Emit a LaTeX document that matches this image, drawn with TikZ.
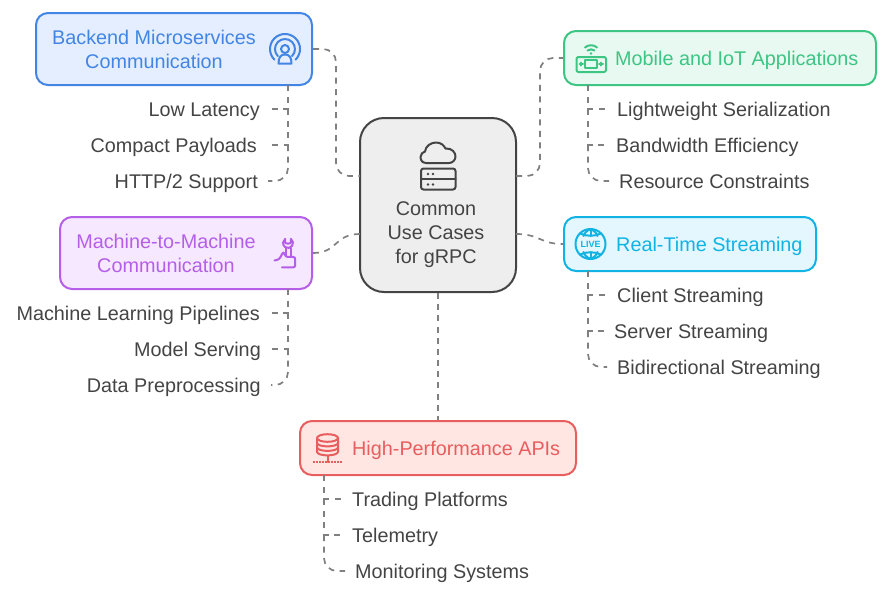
\documentclass[tikz,border=0pt]{standalone}
\usepackage{fontspec}
\setmainfont{Liberation Sans}
\usetikzlibrary{calc}
\definecolor{ink}{HTML}{444444}
\definecolor{conn}{HTML}{808080}
\definecolor{bluel}{HTML}{4285E4}\definecolor{bluef}{HTML}{E4EEFF}
\definecolor{greenl}{HTML}{3CC583}\definecolor{greenf}{HTML}{E8F9F1}
\definecolor{purpl}{HTML}{B55FE8}\definecolor{purpf}{HTML}{F6E8FF}
\definecolor{cyanl}{HTML}{10B3E3}\definecolor{cyanf}{HTML}{E4F7FF}
\definecolor{redl}{HTML}{E85D5D}\definecolor{redf}{HTML}{FFE6E3}
\tikzset{
  x=1pt,y=-1pt,
  basefont/.style={font=\fontsize{19.8}{24}\selectfont},
  catbox/.style={draw=#1l,fill=#1f,line width=2pt,rounded corners=12pt,inner sep=0pt},
  cattext/.style={basefont,text=#1l,inner sep=0pt,text height=15pt,text depth=1pt},
  leafl/.style={basefont,text=ink,anchor=east,inner ysep=0pt,inner xsep=10pt,text height=15pt,text depth=1pt},
  leafr/.style={basefont,text=ink,anchor=west,inner ysep=0pt,inner xsep=10pt,text height=15pt,text depth=1pt},
  conline/.style={draw=conn,line width=1.7pt,dash pattern=on 6pt off 5.5pt},
  trunk/.style={conline,rounded corners=13pt},
  icon/.style={line width=2pt,line cap=round,line join=round,fill=none},
}
\begin{document}
\begin{tikzpicture}
\useasboundingbox (0,0) rectangle (889,595);
\coordinate (tbk) at (288,85);
\coordinate (tmb) at (588,85);
\coordinate (tmc) at (288,289);
\coordinate (trt) at (588,271);
\coordinate (thp) at (324,475);
% boxes
\node[catbox=blue,minimum width=276pt,minimum height=72pt] (backend) at (174,49) {};
\node[catbox=green,minimum width=312pt,minimum height=54pt] (mobile) at (720,58) {};
\node[catbox=purp,minimum width=252pt,minimum height=72pt] (machine) at (186,253) {};
\node[catbox=cyan,minimum width=252pt,minimum height=54pt] (realtime) at (690,244) {};
\node[catbox=red,minimum width=276pt,minimum height=54pt] (highperf) at (438,448) {};
\node[draw=ink,fill=black!6.5,line width=2pt,rounded corners=24pt,minimum width=156pt,minimum height=174pt,inner sep=0pt] (center) at (438,205) {};
% box labels
\node[cattext=blue] (t1a) at (154,37) {Backend Microservices};
\node[cattext=blue] (t1b) at (154,61) {Communication};
\node[cattext=green,anchor=west] (t2) at (615,58) {Mobile and IoT Applications};
\node[cattext=purp] (t3a) at (166,241) {Machine-to-Machine};
\node[cattext=purp] (t3b) at (166,265) {Communication};
\node[cattext=cyan,anchor=west] (t4) at (616,244) {Real-Time Streaming};
\node[cattext=red,anchor=west] (t5) at (352,448) {High-Performance APIs};
\node[basefont,text=ink,inner sep=0pt,text height=15pt,text depth=1pt] (c1) at (436,208) {Common};
\node[basefont,text=ink,inner sep=0pt,text height=15pt,text depth=1pt] (c2) at (436,232) {Use Cases};
\node[basefont,text=ink,inner sep=0pt,text height=15pt,text depth=1pt] (c3) at (436,256) {for gRPC};
% leaves
\node[leafl] (low) at (270,109) {Low Latency};
\node[leafl] (compact) at (267,145) {Compact Payloads};
\node[leafl] (http) at (268,181) {HTTP/2 Support};
\node[leafr] (light) at (607,109) {Lightweight Serialization};
\node[leafr] (band) at (606,145) {Bandwidth Efficiency};
\node[leafr] (resource) at (609,181) {Resource Constraints};
\node[leafl] (mlp) at (270,313) {Machine Learning Pipelines};
\node[leafl] (serving) at (271,349) {Model Serving};
\node[leafl] (prep) at (271,385) {Data Preprocessing};
\node[leafr] (client) at (607,295) {Client Streaming};
\node[leafr] (server) at (604,331) {Server Streaming};
\node[leafr] (bidi) at (607,367) {Bidirectional Streaming};
\node[leafr] (trading) at (342,499) {Trading Platforms};
\node[leafr] (tele) at (342,535) {Telemetry};
\node[leafr] (monitor) at (345,571) {Monitoring Systems};
% center connectors
\coordinate (cl1) at (360,176);\coordinate (cl2) at (360,234);
\coordinate (cr1) at (516,176);\coordinate (cr2) at (516,234);
\draw[trunk] (backend.east) -- (336,49) -- (336,176) -- (cl1);
\draw[trunk] (cr1) -- (540,176) -- (540,58) -- (mobile.west);
\draw[conline] (machine.east) .. controls (338,253) and (334,234) .. (cl2);
\draw[conline] (cr2) .. controls (540,234) and (540,244) .. (realtime.west);
\draw[conline,dash pattern=on 6pt off 5.18pt] (center.south) -- (highperf.north);
% trunks
\draw[conline] (tbk) -- (low.east -| tbk) -- (low.east);
\draw[conline] (low.east -| tbk) -- (compact.east -| tbk) -- (compact.east);
\draw[trunk] (compact.east -| tbk) -- (http.east -| tbk) -- (http.east);
\draw[conline] (tmb) -- (light.west -| tmb) -- (light.west);
\draw[conline] (light.west -| tmb) -- (band.west -| tmb) -- (band.west);
\draw[trunk] (band.west -| tmb) -- (resource.west -| tmb) -- (resource.west);
\draw[conline] (tmc) -- (mlp.east -| tmc) -- (mlp.east);
\draw[conline] (mlp.east -| tmc) -- (serving.east -| tmc) -- (serving.east);
\draw[trunk] (serving.east -| tmc) -- (prep.east -| tmc) -- (prep.east);
\draw[conline] (trt) -- (client.west -| trt) -- (client.west);
\draw[conline] (client.west -| trt) -- (server.west -| trt) -- (server.west);
\draw[trunk] (server.west -| trt) -- (bidi.west -| trt) -- (bidi.west);
\draw[conline] (thp) -- (trading.west -| thp) -- (trading.west);
\draw[conline] (trading.west -| thp) -- (tele.west -| thp) -- (tele.west);
\draw[trunk] (tele.west -| thp) -- (monitor.west -| thp) -- (monitor.west);
% icon: backend
\begin{scope}[icon,draw=bluel]
\draw (285,49) circle[radius=4];
\draw (278.5,63.5) .. controls (278.5,57) and (281,54.5) .. (285,54.5) .. controls (289,54.5) and (291.5,57) .. (291.5,63.5) -- cycle;
\draw (277.9,56.1) arc[start angle=135,end angle=405,radius=10];
\draw (274.4,59.6) arc[start angle=135,end angle=405,radius=15];
\end{scope}
% icon: mobile
\begin{scope}[icon,draw=greenl]
\draw[rounded corners=2pt] (576.5,57) rectangle (606,72);
\draw (585,59.5) rectangle (597,68);
\draw (579.5,64) -- (583,64) (581,62.5) -- (581,65.5);
\draw (599,64) -- (603,64) (601,62.5) -- (601,65.5);
\draw (585,47.5) .. controls (588,44.5) and (594,44.5) .. (597,47.5);
\draw (587.5,50.5) .. controls (589.5,49) and (592.5,49) .. (594.5,50.5);
\fill[greenl] (591,53.5) circle[radius=1.3];
\end{scope}
% icon: cloud + server
\begin{scope}[icon,draw=ink]
\draw (426,163) .. controls (421.5,163) and (420.5,159) .. (420.5,157)
  .. controls (420.5,154) and (423,152) .. (425,151.5)
  .. controls (425.5,146) and (431,142.5) .. (436,142.5)
  .. controls (441,142.5) and (444,145.5) .. (445.5,148.5)
  .. controls (452,148) and (455.5,152.5) .. (455.5,156.5)
  .. controls (455.5,160) and (452.5,163) .. (449,163) -- cycle;
\draw[rounded corners=2.5pt] (421,168.5) rectangle (455.5,189.5);
\draw (421,179) -- (455.5,179);
\end{scope}
\foreach \px/\py in {428/174,433/174,428/184.5,433/184.5}{\fill[ink] (\px,\py) circle[radius=1.3];}
% icon: wrench hand
\begin{scope}[icon,draw=purpl]
\draw (290.9,238.9) arc[start angle=305,end angle=595,radius=5];
\draw (285.1,238.9) -- (285.1,242.5) .. controls (286,244) and (290,244) .. (290.9,242.5) -- (290.9,238.9);
\draw (285.5,248) -- (285.5,256);
\draw (290.5,248) -- (290.5,256);
\draw (274.5,260.5) .. controls (279,260) and (280.5,258) .. (282,254) -- (283.5,252.5) .. controls (285,255) and (285.5,256.5) .. (287,256.8) -- (293,256.8) .. controls (295,257) and (295,258) .. (295,259) -- (295,266) .. controls (295,267) and (294,267.3) .. (293,267.3) -- (282,267.3);
\end{scope}
% icon: globe
\begin{scope}[icon,draw=cyanl]
\draw (590.5,244) circle[radius=15];
\draw (580,233.5) .. controls (586,236.5) and (595,236.5) .. (601,233.5);
\draw (580,254.5) .. controls (586,251.5) and (595,251.5) .. (601,254.5);
\draw (590.5,229) -- (590.5,236);
\draw (590.5,252) -- (590.5,259);
\draw (590.5,229) .. controls (586,231) and (584,234) .. (583.5,236);
\draw (590.5,229) .. controls (595,231) and (597,234) .. (597.5,236);
\draw (590.5,259) .. controls (586,257) and (584,254) .. (583.5,252);
\draw (590.5,259) .. controls (595,257) and (597,254) .. (597.5,252);
\end{scope}
\node[text=cyanl,inner sep=0pt,font=\bfseries\fontsize{9}{9}\selectfont] (live) at (590.5,244) {LIVE};
% icon: database
\begin{scope}[icon,draw=redl]
\draw (327.5,438) ellipse[x radius=10.5,y radius=3.8];
\draw (317,438) -- (317,452) .. controls (318,456.5) and (337,456.5) .. (338,452) -- (338,438);
\draw (317,443) .. controls (318,447.5) and (337,447.5) .. (338,443);
\draw (317,447.5) .. controls (318,452) and (337,452) .. (338,447.5);
\draw (327.5,456) -- (327.5,462);
\draw[line cap=butt,dash pattern=on 2pt off 1pt] (312.5,462) -- (342,462);
\end{scope}
\end{tikzpicture}
\end{document}
